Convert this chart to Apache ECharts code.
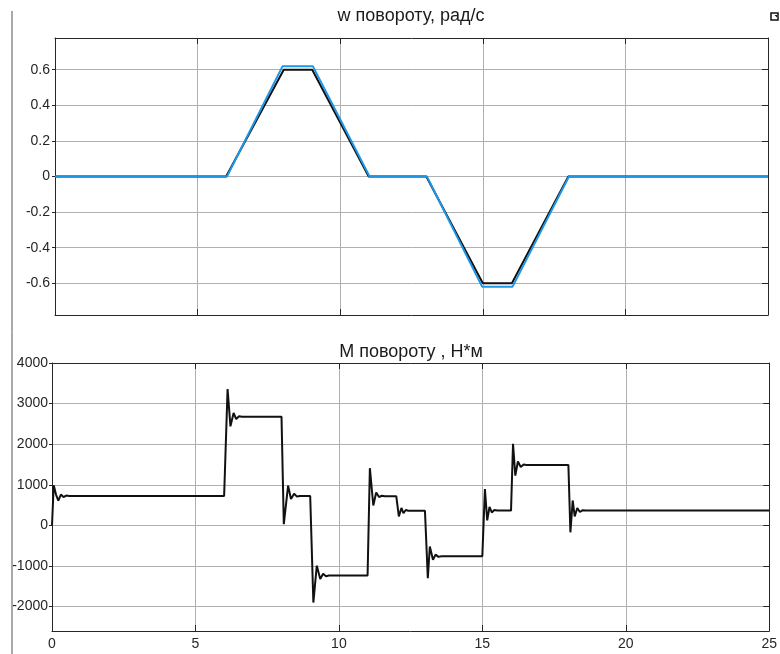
<!DOCTYPE html>
<html>
<head>
<meta charset="utf-8">
<script src="https://cdn.jsdelivr.net/npm/echarts@6/dist/echarts.min.js"></script>
<style>
  html, body { margin: 0; padding: 0; background: #ffffff; }
  #chart { width: 780px; height: 654px; }
</style>
</head>
<body>
<div id="chart"></div>
<script>
// Titles of the two panels
const wTitle = 'w повороту, рад/с';
const mTitle = 'М повороту , Н*м';

// Tick values
const xTicks = [0, 5, 10, 15, 20, 25];
const wTicks = [-0.6, -0.4, -0.2, 0, 0.2, 0.4, 0.6];
const mTicks = [-2000, -1000, 0, 1000, 2000, 3000, 4000];

// Angular speed: reference profile (black)
const wRefTime  = [0, 6.0, 8.02, 9.02, 11.0, 13.02, 15.0, 16.02, 18.0, 25];
const wRefValue = [0, 0, 0.6, 0.6, 0, 0, -0.6, -0.6, 0, 0];

// Angular speed: measured response (blue)
const wActTime  = [0, 6.03, 7.98, 9.04, 11.03, 13.04, 14.98, 16.04, 18.02, 25];
const wActValue = [0, 0, 0.62, 0.62, 0, 0, -0.62, -0.62, 0, 0];

// Turning torque
const mTime = [
  0, 0.06, 0.14, 0.22, 0.31, 0.4, 0.5, 0.6,
  6.0, 6.12, 6.22, 6.33, 6.42, 6.52, 6.62,
  8.0, 8.08, 8.23, 8.33, 8.44, 8.54, 8.64,
  9.0, 9.11, 9.23, 9.35, 9.45, 9.55, 9.65,
  11.0, 11.08, 11.2, 11.3, 11.4, 11.5, 11.6,
  12.0, 12.09, 12.18, 12.25, 12.33, 12.42,
  13.0, 13.1, 13.17, 13.28, 13.37, 13.47, 13.57,
  15.0, 15.09, 15.17, 15.25, 15.33, 15.42, 15.52,
  16.0, 16.07, 16.15, 16.24, 16.34, 16.44, 16.54,
  18.0, 18.07, 18.15, 18.22, 18.31, 18.4, 18.5, 18.6,
  25
];
const mValue = [
  0, 990, 760, 610, 760, 700, 735, 725,
  725, 3360, 2440, 2770, 2620, 2690, 2675,
  2675, 30, 980, 650, 780, 710, 725,
  725, -1900, -990, -1320, -1190, -1250, -1235,
  -1235, 1410, 490, 810, 700, 730, 720,
  720, 220, 430, 300, 380, 360,
  360, -1300, -520, -845, -720, -775, -760,
  -760, 895, 125, 455, 320, 380, 365,
  365, 2010, 1225, 1575, 1440, 1500, 1490,
  1490, -170, 615, 220, 430, 330, 375, 365,
  365
];

const zip = (t, v) => t.map((x, i) => [x, v[i]]);
const plain = v => String(Math.round(v * 1000) / 1000);

const FONT = 'Liberation Sans, Arial, Helvetica, sans-serif';
const FRAME = '#262626';
const GRID = '#b0b0b0';

function xAxisPair(gi, showLabels) {
  return [
    {
      type: 'value', gridIndex: gi, position: 'bottom', min: 0, max: 25, interval: 5,
      axisLine: { show: true, onZero: false, lineStyle: { color: FRAME, width: 1 } },
      axisTick: { show: true, inside: true, length: 6, lineStyle: { color: FRAME } },
      axisLabel: { show: showLabels, color: FRAME, fontFamily: FONT, fontSize: 14, margin: 6,
                   formatter: plain },
      splitLine: { show: true, lineStyle: { color: GRID, width: 1 } }
    },
    {
      type: 'value', gridIndex: gi, position: 'top', min: 0, max: 25, interval: 5,
      axisLine: { show: true, onZero: false, lineStyle: { color: FRAME, width: 1 } },
      axisTick: { show: true, inside: true, length: 6, lineStyle: { color: FRAME } },
      axisLabel: { show: false },
      splitLine: { show: false }
    }
  ];
}

function yAxisPair(gi, min, max, ticks, margin) {
  return [
    {
      type: 'value', gridIndex: gi, position: 'left', min: min, max: max,
      axisLine: { show: true, onZero: false, lineStyle: { color: FRAME, width: 1 } },
      axisTick: { show: true, inside: false, length: 3, customValues: ticks, lineStyle: { color: FRAME } },
      axisLabel: { show: true, customValues: ticks, color: FRAME, fontFamily: FONT, fontSize: 14,
                   margin: margin, formatter: plain },
      splitLine: { show: true, lineStyle: { color: GRID, width: 1 } }
    },
    {
      type: 'value', gridIndex: gi, position: 'right', min: min, max: max,
      axisLine: { show: true, onZero: false, lineStyle: { color: FRAME, width: 1 } },
      axisTick: { show: true, inside: true, length: 6, customValues: ticks, lineStyle: { color: FRAME } },
      axisLabel: { show: false },
      splitLine: { show: false }
    }
  ];
}

const chart = echarts.init(document.getElementById('chart'), null, { renderer: 'canvas' });

chart.setOption({
  animation: false,
  backgroundColor: '#ffffff',
  title: [
    { text: wTitle, left: 406, top: 2, textAlign: 'center',
      textStyle: { fontFamily: FONT, fontSize: 18, fontWeight: 'normal', color: '#1a1a1a' } },
    { text: mTitle, left: 406, top: 338, textAlign: 'center',
      textStyle: { fontFamily: FONT, fontSize: 18, fontWeight: 'normal', color: '#1a1a1a' } }
  ],
  grid: [
    { left: 55, right: 12, top: 38, height: 277 },
    { left: 52, right: 9, top: 363, height: 268 }
  ],
  xAxis: [...xAxisPair(0, false), ...xAxisPair(1, true)],
  yAxis: [...yAxisPair(0, -0.778, 0.778, wTicks, 5), ...yAxisPair(1, -2600, 4000, mTicks, 4)],
  graphic: [
    { type: 'line', shape: { x1: 12, y1: 11, x2: 12, y2: 654 },
      style: { stroke: '#555555', lineWidth: 1 } },
    { type: 'rect', shape: { x: 771, y: 13, width: 7, height: 7 },
      style: { fill: '#ffffff', stroke: '#111111', lineWidth: 1.5 } },
    { type: 'polygon', shape: { points: [[774.5, 15], [777, 15], [777, 17.5]] },
      style: { fill: '#111111' } }
  ],
  series: [
    { type: 'line', xAxisIndex: 0, yAxisIndex: 0, data: zip(wRefTime, wRefValue),
      showSymbol: false, lineStyle: { color: '#111111', width: 2 }, z: 3 },
    { type: 'line', xAxisIndex: 0, yAxisIndex: 0, data: zip(wActTime, wActValue),
      showSymbol: false, lineStyle: { color: '#1e96e8', width: 2 }, z: 4 },
    { type: 'line', xAxisIndex: 2, yAxisIndex: 2, data: zip(mTime, mValue),
      showSymbol: false, lineStyle: { color: '#111111', width: 2 }, z: 3 }
  ]
});
</script>
</body>
</html>
